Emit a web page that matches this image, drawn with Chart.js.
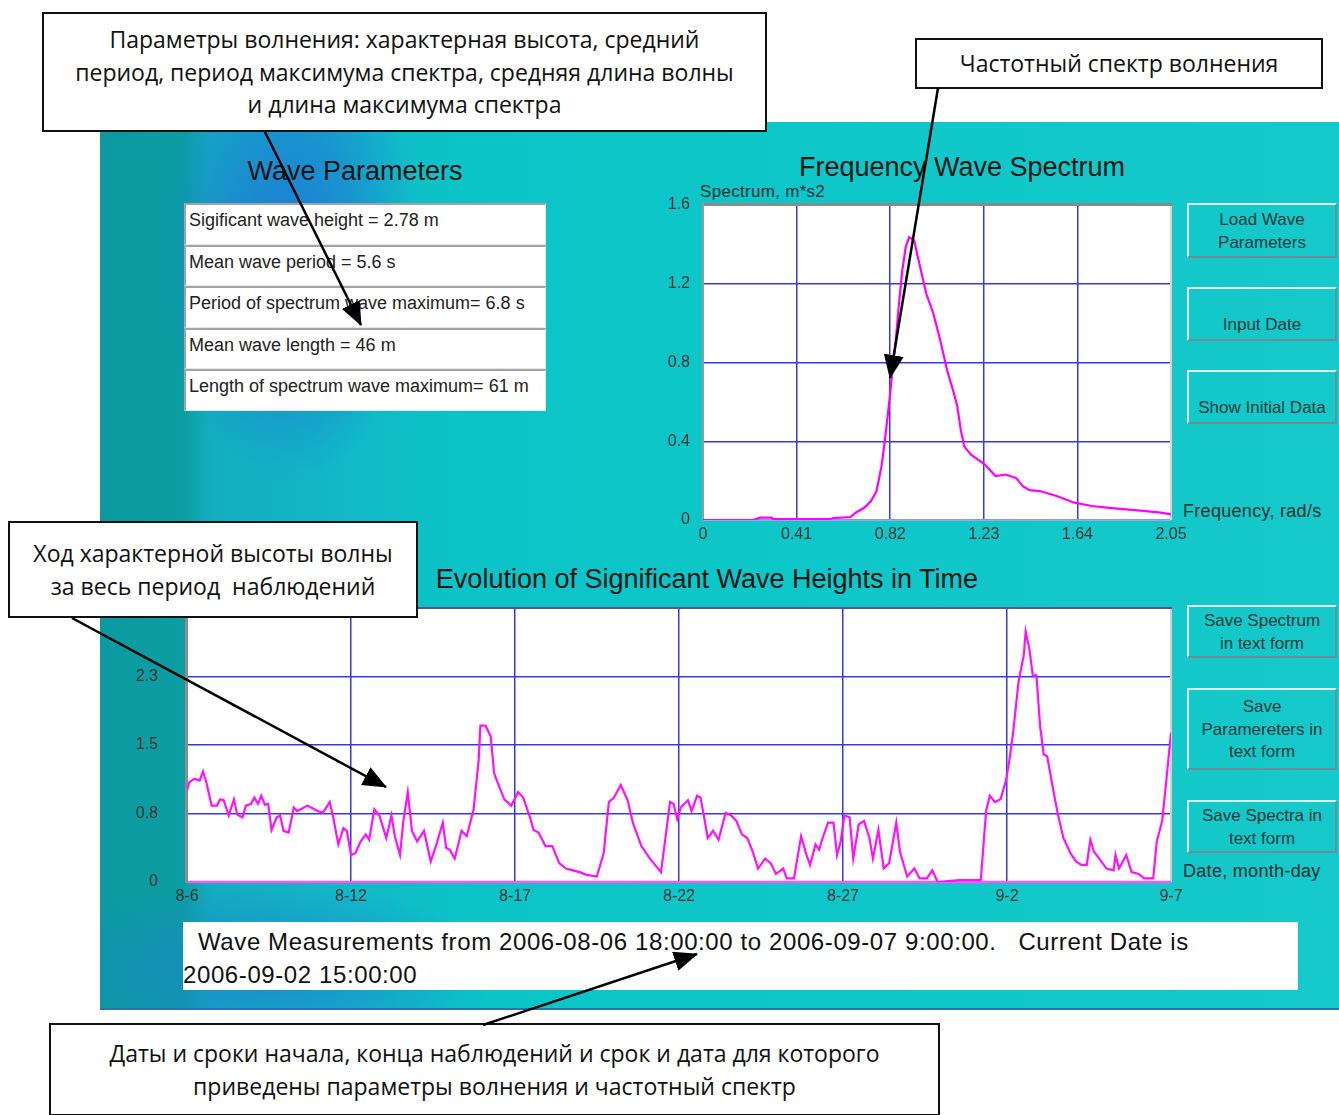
<!DOCTYPE html>
<html lang="ru">
<head>
<meta charset="utf-8">
<title>Wave parameters</title>
<script src="https://cdn.jsdelivr.net/npm/chart.js@4.4.1/dist/chart.umd.min.js"></script>
<style>
  html, body { margin: 0; padding: 0; background: #fff; }
  body { width: 1339px; height: 1115px; position: relative; overflow: hidden;
         font-family: "Liberation Sans", Arial, sans-serif; }
  .panel { position: absolute; left: 100px; top: 122px; width: 1239px; height: 886px;
    border-bottom: 2px solid #2f6fb8;
    background:
      radial-gradient(ellipse 130px 230px at 190px 130px, rgba(30,122,214,0.95) 0%, rgba(30,122,214,0.6) 50%, rgba(30,122,214,0) 100%),
      radial-gradient(ellipse 230px 90px at 170px 850px, rgba(30,130,205,0.8), rgba(30,130,205,0) 100%),
      linear-gradient(to right, #0c9aa0 0px, #0c9ea3 85px, #13aebf 110px, #12b9c7 250px, #0cc4c7 360px, #0cc6c8 600px, #16c9ca 100%);
  }
  .title { position: absolute; font-size: 27px; line-height: 27px; color: #141414; white-space: nowrap; text-align: center; }
  .params { position: absolute; left: 184px; top: 203px; width: 362px; }
  .params div { box-sizing: border-box; height: 41.6px; background: #fff;
    border-top: 2px solid #a4a4a4; border-left: 2px solid #a4a4a4; border-bottom: 1px solid #e6e6e6; border-right: 1px solid #e6e6e6;
    font-size: 18px; color: #222; padding: 5px 0 0 3px; white-space: nowrap; }
  .btn { position: absolute; left: 1187px; width: 150px; box-sizing: border-box;
    border-top: 2px solid #e2f7f7; border-left: 2px solid #e2f7f7; border-right: 2px solid #6d8e90; border-bottom: 2px solid #6d8e90;
    display: flex; align-items: center; justify-content: center; text-align: center;
    font-size: 17px; line-height: 22.5px; color: #123a3a; padding-top: 2px; }
  .btn.low { align-items: flex-end; padding-bottom: 3px; }
  .lbl { position: absolute; font-size: 18px; letter-spacing: 0.3px; color: #16302f; white-space: nowrap; }
  .info { position: absolute; left: 183px; top: 922px; width: 1115px; height: 68px; background: #fff;
    box-sizing: border-box; padding-top: 3px;
    font-size: 24px; line-height: 33px; color: #111; letter-spacing: 0.6px; }
  .note { position: absolute; box-sizing: border-box; background: #fff; border: 2px solid #111;
    display: flex; align-items: center; justify-content: center; text-align: center;
    font-family: "Open Sans", "Noto Sans", sans-serif; font-size: 23px; line-height: 32.5px; color: #111; z-index: 5; }
  canvas { position: absolute; }
  svg { position: absolute; left: 0; top: 0; z-index: 10; }
</style>
</head>
<body>
<div class="panel"></div>

<div class="title" style="left:200px; top:158px; width:310px;">Wave Parameters</div>
<div class="title" style="left:762px; top:154px; width:400px;">Frequency Wave Spectrum</div>
<div class="title" style="left:407px; top:566px; width:600px;">Evolution of Significant Wave Heights in Time</div>

<div class="params">
  <div>Sigificant wave height = 2.78 m</div>
  <div>Mean wave period = 5.6 s</div>
  <div>Period of spectrum wave maximum= 6.8 s</div>
  <div>Mean wave length = 46 m</div>
  <div>Length of spectrum wave maximum= 61 m</div>
</div>

<div class="btn" style="top:203px; height:55px;">Load Wave<br>Parameters</div>
<div class="btn low" style="top:287px; height:54px;">Input Date</div>
<div class="btn low" style="top:370px; height:54px;">Show Initial Data</div>
<div class="btn" style="top:605px; height:53px;">Save Spectrum<br>in text form</div>
<div class="btn" style="top:688px; height:82px;">Save<br>Paramereters in<br>text form</div>
<div class="btn" style="top:800px; height:53px;">Save Spectra in<br>text form</div>

<div class="lbl" style="left:700px; top:182px; font-size:17px;">Spectrum, m*s2</div>
<div class="lbl" style="left:1183px; top:501px;">Frequency, rad/s</div>
<div class="lbl" style="left:1183px; top:861px;">Date, month-day</div>

<canvas id="spectrum" width="560" height="370" style="left:640px; top:180px;"></canvas>
<canvas id="evolution" width="1100" height="320" style="left:100px; top:590px;"></canvas>

<div class="info"><span style="padding-left:15px;">Wave Measurements from 2006-08-06 18:00:00 to 2006-09-07 9:00:00.&nbsp;&nbsp; Current Date is</span><br>2006-09-02 15:00:00</div>

<div class="note" style="left:42px; top:12px; width:725px; height:120px;">Параметры волнения: характерная высота, средний<br>период, период максимума спектра, средняя длина волны<br>и длина максимума спектра</div>
<div class="note" style="left:915px; top:38px; width:408px; height:51px;">Частотный спектр волнения</div>
<div class="note" style="left:8px; top:521px; width:410px; height:97px;">Ход характерной высоты волны<br>за весь период&nbsp; наблюдений</div>
<div class="note" style="left:49px; top:1023px; width:891px; height:93px;">Даты и сроки начала, конца наблюдений и срок и дата для которого<br>приведены параметры волнения и частотный спектр</div>

<svg width="1339" height="1115">
  <defs>
    <marker id="ah" markerUnits="userSpaceOnUse" markerWidth="24" markerHeight="20" refX="23" refY="10" orient="auto">
      <path d="M0,0 L24,10 L0,20 z" fill="#000"/>
    </marker>
  </defs>
  <g stroke="#000" stroke-width="2.5" fill="none">
    <line x1="265" y1="132" x2="361" y2="325" marker-end="url(#ah)"/>
    <line x1="938" y1="88" x2="890" y2="378" marker-end="url(#ah)"/>
    <line x1="72" y1="618" x2="386" y2="787" marker-end="url(#ah)"/>
    <line x1="483" y1="1025" x2="697" y2="954" marker-end="url(#ah)"/>
  </g>
</svg>

<script>
// frequency spectrum, rad/s -> m*s2
const specFreq = [0, 0.22, 0.25, 0.30, 0.31, 0.555, 0.57, 0.646, 0.669, 0.706, 0.736, 0.76,
  0.782, 0.797, 0.812, 0.82, 0.827, 0.842, 0.857, 0.873, 0.888, 0.903, 0.925, 0.948, 0.978,
  1.009, 1.039, 1.069, 1.099, 1.114, 1.129, 1.144, 1.174, 1.235, 1.281, 1.325, 1.371, 1.401,
  1.43, 1.476, 1.552, 1.627, 1.703, 1.778, 1.854, 1.929, 2.005, 2.05];
const specDensity = [0, 0, 0.012, 0.012, 0.004, 0.004, 0.01, 0.015, 0.037, 0.062, 0.096, 0.147,
  0.273, 0.408, 0.56, 0.644, 0.728, 0.88, 1.082, 1.268, 1.386, 1.437, 1.42, 1.30, 1.15,
  1.049, 0.914, 0.762, 0.644, 0.577, 0.459, 0.374, 0.332, 0.282, 0.223, 0.231, 0.214, 0.172,
  0.152, 0.147, 0.121, 0.088, 0.071, 0.062, 0.054, 0.046, 0.037, 0.029];
const specFreqTicks = [0, 0.41, 0.82, 1.23, 1.64, 2.05];
const specFreqLabels = ['0', '0.41', '0.82', '1.23', '1.64', '2.05'];
const specValueTicks = [0, 0.4, 0.8, 1.2, 1.6];
const specValueLabels = ['0', '0.4', '0.8', '1.2', '1.6'];

// significant wave height, hours since 2006-08-06 18:00
const evoHours = [0, 1.8, 5.8, 9.8, 12.4, 15.1, 19.0, 23.0, 25.6, 28.3, 32.2, 36.2, 38.8, 42.8,
  45.4, 49.4, 52.0, 54.7, 57.3, 60.0, 62.6, 65.2, 69.2, 71.8, 74.5, 78.4, 82.4, 85.0, 93.0,
  100.9, 104.8, 110.1, 112.8, 116.7, 120.7, 123.3, 126.5, 129.9, 133.9, 137.9, 140.5, 144.5,
  148.4, 153.7, 157.7, 160.3, 164.3, 166.9, 170.3, 173.5, 177.5, 182.8, 188.0, 192.0, 197.3,
  199.9, 202.6, 206.5, 211.8, 215.8, 221.1, 225.0, 226.3, 230.3, 234.3, 236.9, 240.9, 244.8,
  250.1, 255.4, 259.3, 264.6, 267.3, 271.2, 276.5, 281.8, 287.1, 292.4, 297.6, 302.9, 308.2,
  316.1, 321.4, 325.4, 329.3, 334.6, 339.9, 343.9, 350.5, 357.1, 365.6, 368.4, 372.6, 375.3,
  378.1, 380.9, 383.7, 386.4, 389.2, 393.4, 396.1, 398.9, 401.7, 405.8, 410.0, 415.5, 419.7,
  423.8, 428.0, 432.2, 436.3, 440.5, 446.0, 450.2, 454.3, 459.9, 462.6, 468.2, 473.7, 477.9,
  480.6, 484.8, 487.6, 490.3, 494.5, 498.7, 501.4, 504.2, 507.0, 511.1, 513.9, 518.1, 522.2,
  526.4, 529.1, 533.3, 537.4, 541.6, 547.1, 549.9, 555.5, 561.0, 565.2, 570.7, 574.9, 579.0,
  595.6, 612.3, 616.4, 619.2, 623.3, 627.5, 631.7, 634.4, 637.2, 641.4, 645.5, 646.9, 649.7,
  652.4, 655.2, 658.0, 660.8, 663.5, 667.7, 671.8, 676.0, 681.5, 685.7, 689.8, 694.0, 696.8,
  699.5, 703.7, 709.2, 714.8, 716.2, 718.9, 724.5, 728.6, 734.2, 738.3, 745.3, 748.0, 752.2,
  754.9, 759.0];
const evoHeights = [1.02, 1.11, 1.15, 1.13, 1.23, 1.10, 0.85, 0.85, 0.92, 0.91, 0.74, 0.92, 0.75, 0.72,
  0.85, 0.87, 0.94, 0.87, 0.96, 0.86, 0.87, 0.58, 0.72, 0.74, 0.57, 0.55, 0.83, 0.79, 0.85,
  0.79, 0.77, 0.89, 0.72, 0.42, 0.60, 0.57, 0.30, 0.32, 0.45, 0.53, 0.47, 0.81,
  0.74, 0.49, 0.74, 0.51, 0.30, 0.68, 1.00, 0.57, 0.45, 0.57, 0.23, 0.40, 0.66,
  0.38, 0.36, 0.26, 0.57, 0.51, 0.81, 1.36, 1.74, 1.74, 1.62, 1.21, 1.06, 0.92,
  0.85, 1.00, 0.94, 0.72, 0.58, 0.55, 0.40, 0.40, 0.21, 0.15, 0.13, 0.11, 0.08,
  0.06, 0.32, 0.89, 0.94, 1.08, 0.91, 0.66, 0.40, 0.26, 0.11, 0.42, 0.89, 0.87,
  0.70, 0.83, 0.87, 0.91, 0.79, 0.96, 0.94, 0.72, 0.49, 0.57, 0.47, 0.77, 0.74,
  0.68, 0.53, 0.49, 0.34, 0.15, 0.26, 0.21, 0.09, 0.15, 0.04, 0.04, 0.51, 0.30,
  0.19, 0.42, 0.36, 0.49, 0.66, 0.66, 0.30, 0.45, 0.74, 0.72, 0.26, 0.64, 0.68,
  0.49, 0.26, 0.58, 0.15, 0.21, 0.66, 0.34, 0.06, 0.15, 0.04, 0.04, 0.13, 0.0,
  0.02, 0.02, 0.79, 0.96, 0.89, 0.92, 1.13, 1.36, 1.66, 2.23, 2.53, 2.79, 2.60,
  2.30, 2.30, 1.74, 1.42, 1.40, 1.06, 0.75, 0.49, 0.32, 0.23, 0.19, 0.19, 0.47,
  0.34, 0.26, 0.15, 0.13, 0.30, 0.15, 0.30, 0.11, 0.09, 0.04, 0.04, 0.45, 0.68,
  1.06, 1.66];
const dateTickHours = [0, 126.5, 253, 379.5, 506, 632.5, 759];
const dateTickLabels = ['8-6', '8-12', '8-17', '8-22', '8-27', '9-2', '9-7'];
const heightTicks = [0, 0.7625, 1.525, 2.2875, 3.05];
const heightTickLabels = ['0', '0.8', '1.5', '2.3', '3.1'];

Chart.defaults.font.family = '"Liberation Sans Narrow", "Liberation Sans", Arial, sans-serif';
Chart.defaults.font.size = 16;
Chart.defaults.color = '#333';

// white plot background + the sunken frame around it
const plotFrame = {
  id: 'plotFrame',
  beforeDraw(chart) {
    const a = chart.chartArea, ctx = chart.ctx;
    ctx.save();
    ctx.fillStyle = '#fff';
    ctx.fillRect(a.left, a.top, a.right - a.left, a.bottom - a.top);
    ctx.restore();
  },
  beforeDatasetsDraw(chart, args, opts) {
    const a = chart.chartArea, ctx = chart.ctx;
    const edge = (c, w, x1, y1, x2, y2) => {
      ctx.strokeStyle = c; ctx.lineWidth = w;
      ctx.beginPath(); ctx.moveTo(x1, y1); ctx.lineTo(x2, y2); ctx.stroke();
    };
    ctx.save();
    edge(opts.right[0], opts.right[1], a.right, a.top, a.right, a.bottom);
    edge(opts.bottom[0], opts.bottom[1], a.left, a.bottom, a.right, a.bottom);
    edge(opts.top[0], opts.top[1], a.left - 1, a.top - opts.top[1] / 2 + 1, a.right + 1, a.top - opts.top[1] / 2 + 1);
    edge(opts.left[0], opts.left[1], a.left - opts.left[1] / 2 + 1, a.top - 2, a.left - opts.left[1] / 2 + 1, a.bottom + 1);
    ctx.restore();
  }
};

const gridBlue = '#3838e0';

new Chart(document.getElementById('spectrum'), {
  type: 'line',
  data: {
    datasets: [{
      data: specFreq.map((f, i) => ({ x: f, y: specDensity[i] })),
      borderColor: '#ff00ff',
      borderWidth: 2.2,
      pointRadius: 0,
      tension: 0
    }]
  },
  options: {
    responsive: false,
    animation: false,
    layout: { padding: { top: 25, right: 29, left: 0, bottom: 0 } },
    plugins: {
      legend: { display: false },
      tooltip: { enabled: false },
      plotFrame: { top: ['#8a8a8a', 3], left: ['#9a9a9a', 2], right: ['#d6d6d6', 2], bottom: ['#ececec', 1] }
    },
    scales: {
      x: {
        type: 'linear', min: 0, max: 2.05,
        afterBuildTicks: s => { s.ticks = specFreqTicks.map(v => ({ value: v })); },
        afterFit: s => { s.height = 30; },
        grid: { color: gridBlue, lineWidth: 1.5, drawTicks: false },
        border: { display: false },
        ticks: { autoSkip: false, maxRotation: 0, padding: 5, callback: (v, i) => specFreqLabels[i] }
      },
      y: {
        min: 0, max: 1.6,
        afterBuildTicks: s => { s.ticks = specValueTicks.map(v => ({ value: v })); },
        afterFit: s => { s.width = 63; },
        grid: { color: gridBlue, lineWidth: 1.5, drawTicks: true, tickLength: 10, tickColor: 'rgba(0,0,0,0)' },
        border: { display: false },
        ticks: { autoSkip: false, padding: 3, callback: (v, i) => specValueLabels[i] }
      }
    }
  },
  plugins: [plotFrame]
});

new Chart(document.getElementById('evolution'), {
  type: 'line',
  data: {
    datasets: [{
      data: evoHours.map((h, i) => ({ x: h, y: evoHeights[i] })),
      borderColor: '#ff10ff',
      borderWidth: 2.2,
      pointRadius: 0,
      tension: 0
    }]
  },
  options: {
    responsive: false,
    animation: false,
    layout: { padding: { top: 18, right: 29, left: 0, bottom: 0 } },
    plugins: {
      legend: { display: false },
      tooltip: { enabled: false },
      plotFrame: { top: ['#55559a', 2], left: ['#8c8c8c', 3], right: ['#d0d0d0', 2], bottom: ['#ff55ff', 2.5] }
    },
    scales: {
      x: {
        type: 'linear', min: 0, max: 759,
        afterBuildTicks: s => { s.ticks = dateTickHours.map(v => ({ value: v })); },
        afterFit: s => { s.height = 28; },
        grid: { color: gridBlue, lineWidth: 1.5, drawTicks: false },
        border: { display: false },
        ticks: { autoSkip: false, maxRotation: 0, padding: 5, callback: (v, i) => dateTickLabels[i] }
      },
      y: {
        min: 0, max: 3.05,
        afterBuildTicks: s => { s.ticks = heightTicks.map(v => ({ value: v })); },
        afterFit: s => { s.width = 87; },
        grid: { color: gridBlue, lineWidth: 1.5, drawTicks: true, tickLength: 26, tickColor: 'rgba(0,0,0,0)' },
        border: { display: false },
        ticks: { autoSkip: false, padding: 3, callback: (v, i) => heightTickLabels[i] }
      }
    }
  },
  plugins: [plotFrame]
});
</script>
</body>
</html>
